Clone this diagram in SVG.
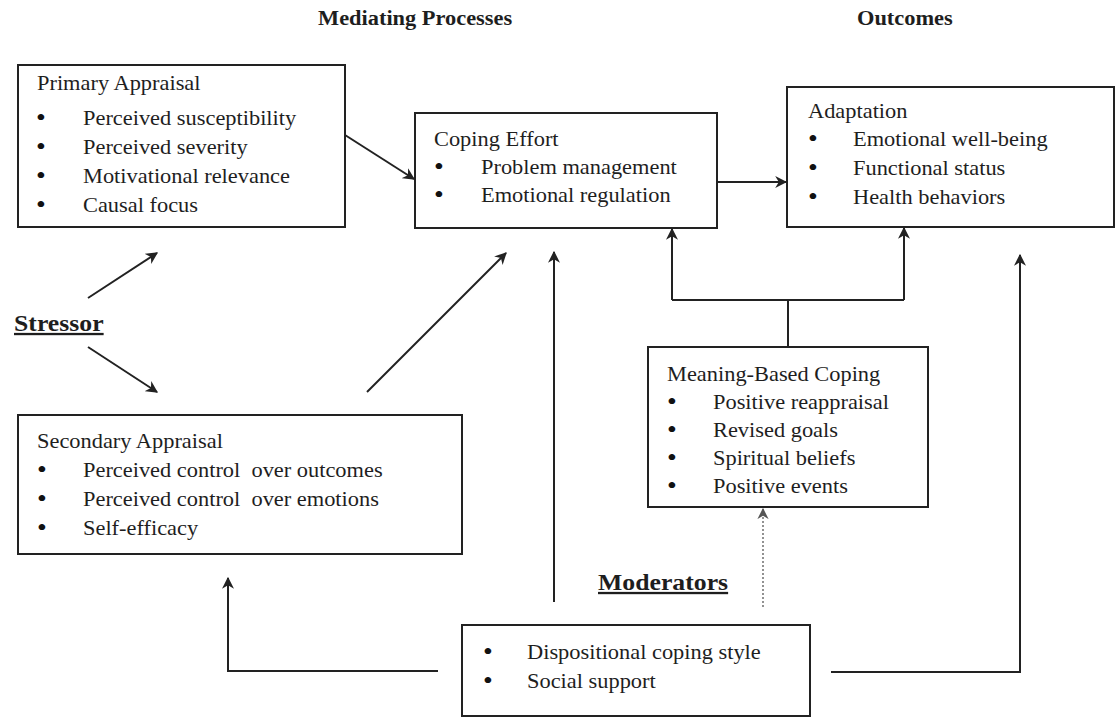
<svg xmlns="http://www.w3.org/2000/svg" width="1117" height="719" viewBox="0 0 1117 719">
<style>
  .box{fill:#fff;stroke:#222;stroke-width:2}
  .t{font-family:"Liberation Serif","Times New Roman",serif;font-size:20px;fill:#1e1e1e}
  .bu{font-family:"Liberation Serif","Times New Roman",serif;font-size:25px;fill:#111}
  .b{font-family:"Liberation Serif","Times New Roman",serif;font-weight:bold;fill:#1e1e1e}
  .c{fill:none;stroke:#222;stroke-width:2}
  .d{fill:none;stroke:#777;stroke-width:1.6;stroke-dasharray:2 2}
</style>
<defs>
  <marker id="ah" viewBox="0 0 10 10" refX="9" refY="5" markerWidth="6" markerHeight="6" markerUnits="strokeWidth" orient="auto">
    <path d="M0,0 L10,5 L0,10 L3,5 Z" fill="#222"/>
  </marker>
  <marker id="ahd" viewBox="0 0 10 10" refX="9" refY="5" markerWidth="7" markerHeight="7" markerUnits="strokeWidth" orient="auto">
    <path d="M0,0 L10,5 L0,10 L3,5 Z" fill="#555"/>
  </marker>
</defs>
<rect width="1117" height="719" fill="#fff"/>

<g id="titles">
  <text class="b" font-size="20" transform="translate(318 25) scale(1.12 1)">Mediating Processes</text>
  <text class="b" font-size="20" transform="translate(857 25) scale(1.12 1)">Outcomes</text>
</g>

<g id="stressor">
  <text class="b" font-size="23" text-decoration="underline" transform="translate(14 331) scale(1.12 1)">Stressor</text>
</g>

<g id="primary-appraisal">
  <rect class="box" x="18" y="65" width="327" height="162"/>
  <text class="t" transform="translate(37 90) scale(1.12 1)">Primary Appraisal</text>
  <text class="bu" transform="translate(36 126) scale(1.12 1)">•</text>
  <text class="t" transform="translate(83 125) scale(1.12 1)">Perceived susceptibility</text>
  <text class="bu" transform="translate(36 155) scale(1.12 1)">•</text>
  <text class="t" transform="translate(83 154) scale(1.12 1)">Perceived severity</text>
  <text class="bu" transform="translate(36 184) scale(1.12 1)">•</text>
  <text class="t" transform="translate(83 183) scale(1.12 1)">Motivational relevance</text>
  <text class="bu" transform="translate(36 213) scale(1.12 1)">•</text>
  <text class="t" transform="translate(83 212) scale(1.12 1)">Causal focus</text>
</g>

<g id="coping-effort">
  <rect class="box" x="415" y="113" width="302" height="115"/>
  <text class="t" transform="translate(434 146) scale(1.12 1)">Coping Effort</text>
  <text class="bu" transform="translate(434 175) scale(1.12 1)">•</text>
  <text class="t" transform="translate(481 174) scale(1.12 1)">Problem management</text>
  <text class="bu" transform="translate(434 203) scale(1.12 1)">•</text>
  <text class="t" transform="translate(481 202) scale(1.12 1)">Emotional regulation</text>
</g>

<g id="adaptation">
  <rect class="box" x="787" y="87" width="327" height="140"/>
  <text class="t" transform="translate(808 118) scale(1.12 1)">Adaptation</text>
  <text class="bu" transform="translate(808 147) scale(1.12 1)">•</text>
  <text class="t" transform="translate(853 146) scale(1.12 1)">Emotional well-being</text>
  <text class="bu" transform="translate(808 176) scale(1.12 1)">•</text>
  <text class="t" transform="translate(853 175) scale(1.12 1)">Functional status</text>
  <text class="bu" transform="translate(808 205) scale(1.12 1)">•</text>
  <text class="t" transform="translate(853 204) scale(1.12 1)">Health behaviors</text>
</g>

<g id="secondary-appraisal">
  <rect class="box" x="18" y="415" width="444" height="139"/>
  <text class="t" transform="translate(37 448) scale(1.12 1)">Secondary Appraisal</text>
  <text class="bu" transform="translate(37 478) scale(1.12 1)">•</text>
  <text class="t" transform="translate(83 477) scale(1.12 1)">Perceived control&#160; over outcomes</text>
  <text class="bu" transform="translate(37 507) scale(1.12 1)">•</text>
  <text class="t" transform="translate(83 506) scale(1.12 1)">Perceived control&#160; over emotions</text>
  <text class="bu" transform="translate(37 536) scale(1.12 1)">•</text>
  <text class="t" transform="translate(83 535) scale(1.12 1)">Self-efficacy</text>
</g>

<g id="meaning-based-coping">
  <rect class="box" x="648" y="347" width="280" height="160"/>
  <text class="t" transform="translate(667 381) scale(1.12 1)">Meaning-Based Coping</text>
  <text class="bu" transform="translate(667 410) scale(1.12 1)">•</text>
  <text class="t" transform="translate(713 409) scale(1.12 1)">Positive reappraisal</text>
  <text class="bu" transform="translate(667 438) scale(1.12 1)">•</text>
  <text class="t" transform="translate(713 437) scale(1.12 1)">Revised goals</text>
  <text class="bu" transform="translate(667 466) scale(1.12 1)">•</text>
  <text class="t" transform="translate(713 465) scale(1.12 1)">Spiritual beliefs</text>
  <text class="bu" transform="translate(667 494) scale(1.12 1)">•</text>
  <text class="t" transform="translate(713 493) scale(1.12 1)">Positive events</text>
</g>

<g id="moderators">
  <text class="b" font-size="23" text-decoration="underline" transform="translate(598 590) scale(1.12 1)">Moderators</text>
  <rect class="box" x="462" y="625" width="348" height="91"/>
  <text class="bu" transform="translate(483 660) scale(1.12 1)">•</text>
  <text class="t" transform="translate(527 659) scale(1.12 1)">Dispositional coping style</text>
  <text class="bu" transform="translate(483 689) scale(1.12 1)">•</text>
  <text class="t" transform="translate(527 688) scale(1.12 1)">Social support</text>
</g>

<g id="connectors">
  <line class="c" x1="88" y1="298" x2="157" y2="253" marker-end="url(#ah)"/>
  <line class="c" x1="88" y1="347" x2="157" y2="392" marker-end="url(#ah)"/>
  <line class="c" x1="345" y1="135" x2="414" y2="179" marker-end="url(#ah)"/>
  <line class="c" x1="367" y1="392" x2="506" y2="253" marker-end="url(#ah)"/>
  <line class="c" x1="717" y1="182" x2="786" y2="182" marker-end="url(#ah)"/>
  <path class="c" d="M788,347 V300 M672,300 H904"/>
  <line class="c" x1="672" y1="300" x2="672" y2="229" marker-end="url(#ah)"/>
  <line class="c" x1="904" y1="300" x2="904" y2="228" marker-end="url(#ah)"/>
  <line class="c" x1="554" y1="602" x2="554" y2="252" marker-end="url(#ah)"/>
  <line class="d" x1="763" y1="607" x2="763" y2="509" marker-end="url(#ahd)"/>
  <path class="c" d="M438,671 H228 V578" marker-end="url(#ah)"/>
  <path class="c" d="M831,672 H1020 V255" marker-end="url(#ah)"/>
</g>
</svg>
